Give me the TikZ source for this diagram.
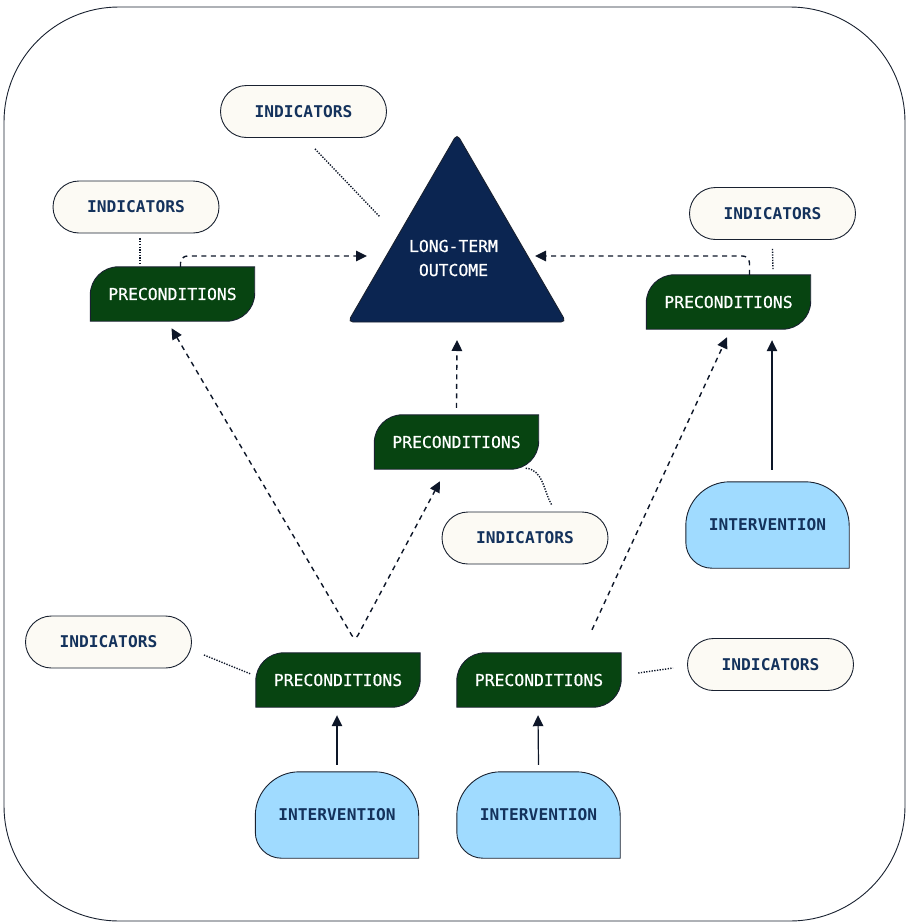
\documentclass[tikz,border=0pt]{standalone}
\usepackage{fontspec}
\usetikzlibrary{arrows.meta,backgrounds}
\newfontfamily\monofam{DejaVu Sans Mono}
\newfontfamily\monomid[FakeBold=0.7]{DejaVu Sans Mono}

\definecolor{navy}{RGB}{11,37,81}
\definecolor{leaf}{RGB}{7,68,17}
\definecolor{sky}{RGB}{160,219,255}
\definecolor{cream}{RGB}{252,250,244}
\definecolor{inkblue}{RGB}{20,50,92}
\definecolor{rim}{RGB}{25,33,48}
\definecolor{wire}{RGB}{13,22,40}

\tikzset{
  indic/.style={draw=rim, line width=0.9pt, fill=cream, rounded corners=26pt,
    minimum width=166pt, minimum height=52pt, inner sep=0pt,
    font=\monofam\bfseries\fontsize{16.2}{18}\selectfont, text=inkblue},
  precbox/.style={minimum width=164pt, minimum height=54pt, inner sep=0pt,
    font=\monomid\fontsize{16.4}{18}\selectfont, text=white},
  intbox/.style={minimum width=163pt, minimum height=86pt, inner sep=0pt,
    font=\monofam\bfseries\fontsize{16.2}{18}\selectfont, text=inkblue},
  precfill/.style={fill=leaf, draw=rim, line width=0.9pt},
  intfill/.style={fill=sky, draw=rim, line width=0.9pt},
  tipstyle/.style={-{Triangle[length=11pt,width=10.5pt]}},
  dashflow/.style={draw=wire, line width=1.4pt, dash pattern=on 5pt off 4.5pt},
  solidflow/.style={draw=wire, line width=1.2pt, tipstyle},
  dotlink/.style={draw=wire, line width=1.4pt, dash pattern=on 1.3pt off 1.4pt},
}

% green box: top-left and bottom-right corners rounded
\newcommand\precshape[1]{%
  \path[precfill] (#1.south west) -- ([yshift=-28pt]#1.north west)
    arc[start angle=180,end angle=90,radius=28pt] -- (#1.north east)
    -- ([yshift=28pt]#1.south east)
    arc[start angle=0,end angle=-90,radius=28pt] -- cycle;}
% blue box: only the bottom-right corner is square
\newcommand\intshape[1]{%
  \path[intfill] (#1.south east) -- ([yshift=-44pt]#1.north east)
    arc[start angle=0,end angle=90,radius=44pt] -- ([xshift=44pt]#1.north west)
    arc[start angle=90,end angle=180,radius=44pt] -- ([yshift=26pt]#1.south west)
    arc[start angle=180,end angle=270,radius=26pt] -- cycle;}

\begin{document}
\begin{tikzpicture}[x=1pt,y=1pt]
\useasboundingbox (0,0) rectangle (908,-924);

% outer frame
\draw[rim, line width=0.9pt, rounded corners=115pt] (4,-7) rectangle (905,-921);

% long-term outcome triangle
\path[fill=navy, draw=rim, line width=0.9pt, rounded corners=5pt]
  (457,-134) -- (566,-322) -- (348,-322) -- cycle;
\node[font=\monomid\fontsize{16.4}{24}\selectfont, text=white, align=center]
  (outcome) at (453.5,-258) {LONG-TERM\\OUTCOME};
\coordinate (outL) at (367,-256);
\coordinate (outR) at (535,-256);
\coordinate (outB) at (457,-340);
\coordinate (outEdge) at (380,-217);

% indicator pills
\node[indic] (indTop) at (303.5,-111.5) {INDICATORS};
\node[indic] (indL)   at (136,-207)     {INDICATORS};
\node[indic] (indR)   at (772.5,-213.5) {INDICATORS};
\node[indic] (indM)   at (525,-538)     {INDICATORS};
\node[indic] (indBL)  at (108.5,-642)   {INDICATORS};
\node[indic] (indBR)  at (770.5,-664.5) {INDICATORS};

% preconditions
\node[precbox] (precL)  at (172.5,-294) {PRECONDITIONS};
\node[precbox] (precR)  at (728.5,-302) {PRECONDITIONS};
\node[precbox] (precM)  at (456.5,-442) {PRECONDITIONS};
\node[precbox] (precBL) at (338,-680)   {PRECONDITIONS};
\node[precbox] (precBR) at (539,-680)   {PRECONDITIONS};

% interventions
\node[intbox] (intR)  at (767.5,-525) {INTERVENTION};
\node[intbox] (intBL) at (337,-815)   {INTERVENTION};
\node[intbox] (intBR) at (538.5,-815) {INTERVENTION};

\begin{scope}[on background layer]
  \precshape{precL}\precshape{precR}\precshape{precM}
  \precshape{precBL}\precshape{precBR}
  \intshape{intR}\intshape{intBL}\intshape{intBR}
\end{scope}

% dashed causal links
\draw[dashflow, tipstyle, rounded corners=7pt] ([xshift=8pt]precL.north) |- (outL);
\draw[dashflow, tipstyle, rounded corners=7pt] ([xshift=21pt]precR.north) |- (outR);
\draw[dashflow, tipstyle] ([yshift=7pt]precM.north) -- (outB);
\coordinate (split) at ([xshift=17pt,yshift=12pt]precBL.north);
\draw[dashflow, {Triangle[length=11pt,width=10.5pt]}-{Triangle[length=11pt,width=10.5pt]}, rounded corners=6pt]
  ([xshift=-1pt,yshift=-7pt]precL.south) -- (split) -- ([xshift=-16.5pt,yshift=-12pt]precM.south);
\draw[dashflow, tipstyle] ([xshift=53pt,yshift=23pt]precBR.north) -- ([xshift=-1.5pt,yshift=-8pt]precR.south);

% solid intervention links
\draw[solidflow] ([xshift=4.5pt,yshift=12pt]intR.north) -- ([xshift=43.5pt,yshift=-11pt]precR.south);
\draw[solidflow] ([yshift=7pt]intBL.north) -- ([xshift=-1pt,yshift=-8pt]precBL.south);
\draw[solidflow] ([yshift=7pt]intBR.north) -- ([xshift=-1pt,yshift=-8pt]precBR.south);

% dotted indicator links
\draw[dotlink] ([xshift=11.5pt,yshift=-11pt]indTop.south) -- (outEdge);
\draw[dotlink] ([xshift=4pt,yshift=-5pt]indL.south) -- ([xshift=-32.5pt,yshift=2pt]precL.north);
\draw[dotlink] ([yshift=-9pt]indR.south) -- ([xshift=44.5pt,yshift=5pt]precR.north);
\draw[dotlink] ([xshift=-13pt,yshift=1pt]precM.south east) to[out=-5,in=120] ([xshift=27pt,yshift=6pt]indM.north);
\draw[dotlink] ([xshift=12pt,yshift=-13pt]indBL.east) -- ([xshift=-5pt,yshift=6pt]precBL.west);
\draw[dotlink] ([xshift=17pt,yshift=7pt]precBR.east) -- ([xshift=-14pt,yshift=-3.5pt]indBR.west);
\end{tikzpicture}
\end{document}
